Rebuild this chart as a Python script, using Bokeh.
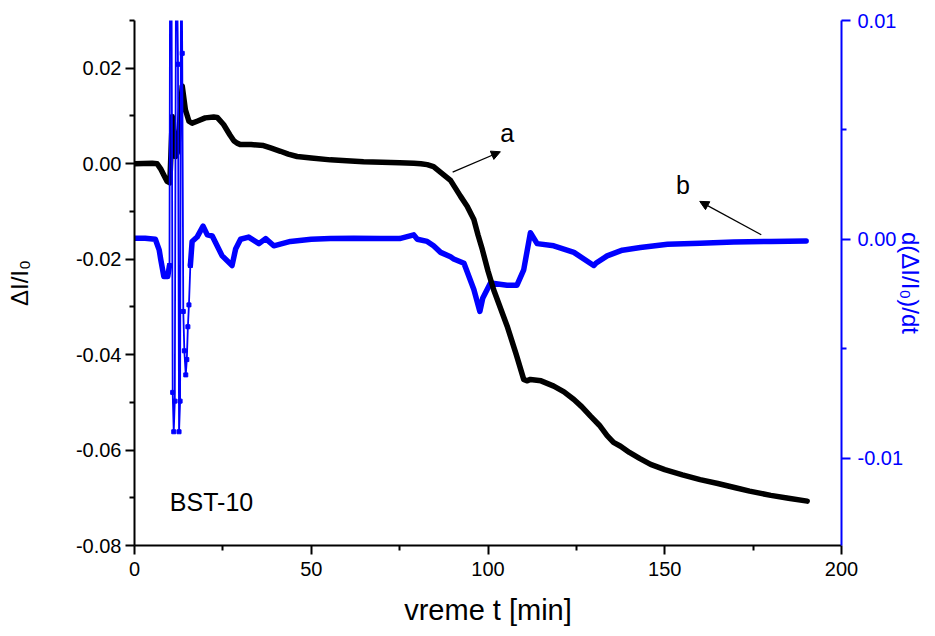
from bokeh.plotting import figure
from bokeh.models import (Range1d, LinearAxis, FixedTicker, NumeralTickFormatter,
                          Arrow, NormalHead, Label, ColumnDataSource)
from bokeh.embed import file_html
from bokeh.resources import INLINE

# ---------------- data ----------------
# curve a : dI/I0 (left axis)
a_t = [0, 5, 6.4, 7.5, 8.5, 9.2, 10.0, 10.7, 11.6, 12.2, 13.5, 14.4, 15.4, 16.3, 17.7,
       20, 22.4, 23.4, 25.2, 27, 28.1, 29, 30, 33, 36.5, 38.5, 41.3, 43.5, 46, 50,
       55.4, 60, 64.8, 70, 75, 79, 81, 82.8, 84.6, 86.6, 89.4, 92.2, 94.1, 96, 97.2,
       98.4, 100, 101.6, 105.4, 108, 110.1, 111, 112, 115, 118.6, 121.5, 124.3, 126.5,
       129, 131.5, 133.7, 135.5, 137.5, 140, 143, 146, 150, 155, 160, 165, 170, 174,
       180, 185, 190.3]
a_v = [0.0, 0.0001, 0.0, -0.0012, -0.0027, -0.0037, -0.0040, 0.0099, 0.0015, 0.0025,
       0.0163, 0.0113, 0.0089, 0.0085, 0.0089, 0.0096, 0.0098, 0.0097, 0.0082, 0.0060,
       0.0048, 0.0043, 0.0040, 0.0040, 0.0038, 0.0033, 0.0026, 0.0020, 0.0015, 0.0012,
       0.0008, 0.0006, 0.0004, 0.0003, 0.0002, 0.0001, 0.0, -0.0002, -0.0006, -0.0018,
       -0.0035, -0.0068, -0.0089, -0.0117, -0.0150, -0.0180, -0.0225, -0.0264, -0.0340,
       -0.0400, -0.0452, -0.0455, -0.0452, -0.0455, -0.0466, -0.0478, -0.0494, -0.0509,
       -0.0529, -0.0548, -0.0570, -0.0584, -0.0592, -0.0605, -0.0618, -0.0630, -0.0641,
       -0.0652, -0.0662, -0.0670, -0.0679, -0.0686, -0.0695, -0.0701, -0.0707]

# curve b : d(dI/I0)/dt (right axis)
b_t = [0, 3, 5.9, 7.0, 7.4, 8.3, 9.4, 9.9,
       10.1, 10.4, 10.8, 11.1, 11.4, 11.8, 12.3, 12.6, 12.9, 13.2, 13.5, 13.8, 14.1,
       14.5, 14.8, 15.1, 15.4, 15.8,
       16.3, 17.7, 19.4, 20.6, 22.0, 24.8, 27.6, 28.6, 30, 32.3, 35.2, 37.1, 39.4, 44.1,
       50, 55.4, 62, 69.6, 75, 79, 80, 82.8, 84.6, 86.6, 89.4, 90.3, 93.2, 96, 97.7,
       98.5, 100.7, 105.4, 108.2, 110.1, 112, 113.9, 118.6, 124.3, 129.9, 130.5, 133.7,
       138, 143.1, 150.8, 160, 169.5, 180, 190]
b_v = [0.00005, 0.00005, 0.0, -0.0005, -0.0009, -0.0017, -0.0017, -0.0012,
       0.0160, 0.0160, -0.0070, -0.0088, -0.0074, 0.0160, 0.0080, -0.0088, -0.0074,
       0.0160, 0.0085, -0.0033, -0.0051, -0.0062, -0.0055, -0.0040, -0.0030, -0.0012,
       -0.0001, 0.0001, 0.0006, 0.0002, 0.00015, -0.00076, -0.0012, -0.00045, 0.0,
       0.0001, -0.0002, 0.00003, -0.0003, -0.0001, 0.0, 0.00003, 0.00005, 0.00003,
       0.00003, 0.0002, 0.0, -0.0001, -0.0003, -0.0006, -0.0008, -0.0009, -0.0011,
       -0.0023, -0.0033, -0.0027, -0.0020, -0.0021, -0.0021, -0.0014, 0.0003, -0.0002,
       -0.0003, -0.0006, -0.0012, -0.0011, -0.00076, -0.0005, -0.00038, -0.00023,
       -0.00018, -0.00013, -0.0001, -0.00008]

spike_start, spike_end = 9.9, 15.8   # oscillating part drawn as thin line with markers

x_ticks = [0, 50, 100, 150, 200]
x_minor = [25, 75, 125, 175]
left_ticks = [-0.08, -0.06, -0.04, -0.02, 0.0, 0.02]
left_minor = [-0.07, -0.05, -0.03, -0.01, 0.01, 0.03]
right_ticks = [-0.01, 0.0, 0.01]
right_minor = [-0.005, 0.005]

FONT = "Liberation Sans"
BLUE = "#0000FF"

p = figure(width=927, height=628, output_backend="svg", toolbar_location=None,
           x_range=Range1d(0, 200), y_range=Range1d(-0.08, 0.03),
           min_border_left=134, min_border_right=86, min_border_top=20,
           min_border_bottom=82)
p.extra_y_ranges = {"d": Range1d(-0.014, 0.01)}
p.outline_line_color = None
p.xgrid.visible = False
p.ygrid.visible = False
p.background_fill_color = "white"
p.border_fill_color = "white"

def style_axis(ax, color):
    ax.axis_line_color = color
    ax.axis_line_width = 2
    ax.major_tick_line_color = color
    ax.major_tick_line_width = 2
    ax.minor_tick_line_color = color
    ax.minor_tick_line_width = 2
    ax.major_tick_in = 0
    ax.major_tick_out = 9
    ax.minor_tick_in = 0
    ax.minor_tick_out = 5
    ax.major_label_text_font = FONT
    ax.major_label_text_font_size = "20px"
    ax.major_label_text_color = color
    ax.axis_label_text_font = FONT
    ax.axis_label_text_font_style = "normal"
    ax.axis_label_text_color = color

xa = p.xaxis[0]
xa.ticker = FixedTicker(ticks=x_ticks, minor_ticks=x_minor)
xa.formatter = NumeralTickFormatter(format="0")
style_axis(xa, "black")
xa.axis_label = "vreme t [min]"
xa.axis_label_text_font_size = "29px"
xa.major_label_standoff = 7
xa.axis_label_standoff = 15

ya = p.yaxis[0]
ya.ticker = FixedTicker(ticks=left_ticks, minor_ticks=left_minor)
ya.formatter = NumeralTickFormatter(format="0.00")
style_axis(ya, "black")
ya.axis_label = "ΔI/I₀"
ya.axis_label_text_font_size = "24px"
ya.major_label_standoff = 4
ya.axis_label_standoff = 40

ra = LinearAxis(y_range_name="d")
ra.ticker = FixedTicker(ticks=right_ticks, minor_ticks=right_minor)
ra.formatter = NumeralTickFormatter(format="0.00")
style_axis(ra, BLUE)
ra.axis_label = "d(ΔI/I₀)/dt"
ra.axis_label_text_font_size = "24px"
ra.major_label_standoff = 7
ra.axis_label_standoff = -9
p.add_layout(ra, "right")

# split curve b into smooth parts and oscillating part
pre = [(t, v) for t, v in zip(b_t, b_v) if t <= spike_start]
mid = [(t, v) for t, v in zip(b_t, b_v) if spike_start <= t <= spike_end]
post = [(t, v) for t, v in zip(b_t, b_v) if t >= spike_end]

for part in (pre, post):
    p.line([q[0] for q in part], [q[1] for q in part], y_range_name="d",
           line_color=BLUE, line_width=5.5, line_join="round", line_cap="round")

p.line(a_t, a_v, line_color="black", line_width=5.5, line_join="round", line_cap="round")

mid_src = ColumnDataSource(dict(t=[q[0] for q in mid], v=[q[1] for q in mid]))
p.line("t", "v", source=mid_src, y_range_name="d", line_color=BLUE, line_width=1.8)
p.scatter("t", "v", source=mid_src, y_range_name="d", marker="square", size=4,
          fill_color=BLUE, line_color=BLUE)

# annotations
p.add_layout(Arrow(end=NormalHead(size=9, fill_color="black", line_color="black"),
                   x_start=90.0, y_start=-0.00175, x_end=103.5, y_end=0.0025,
                   line_color="black", line_width=1.3))
p.add_layout(Arrow(end=NormalHead(size=9, fill_color="black", line_color="black"),
                   x_start=177.3, y_start=-0.0149, x_end=159.9, y_end=-0.0079,
                   line_color="black", line_width=1.3))
for txt, x, y in (("a", 103.5, 0.0065), ("b", 153.2, -0.0044), ("BST-10", 10.0, -0.0709)):
    p.add_layout(Label(x=x, y=y, text=txt, text_font=FONT, text_font_size="25px",
                       text_color="black", text_baseline="alphabetic"))

open("out.html", "w").write(file_html(p, INLINE))
